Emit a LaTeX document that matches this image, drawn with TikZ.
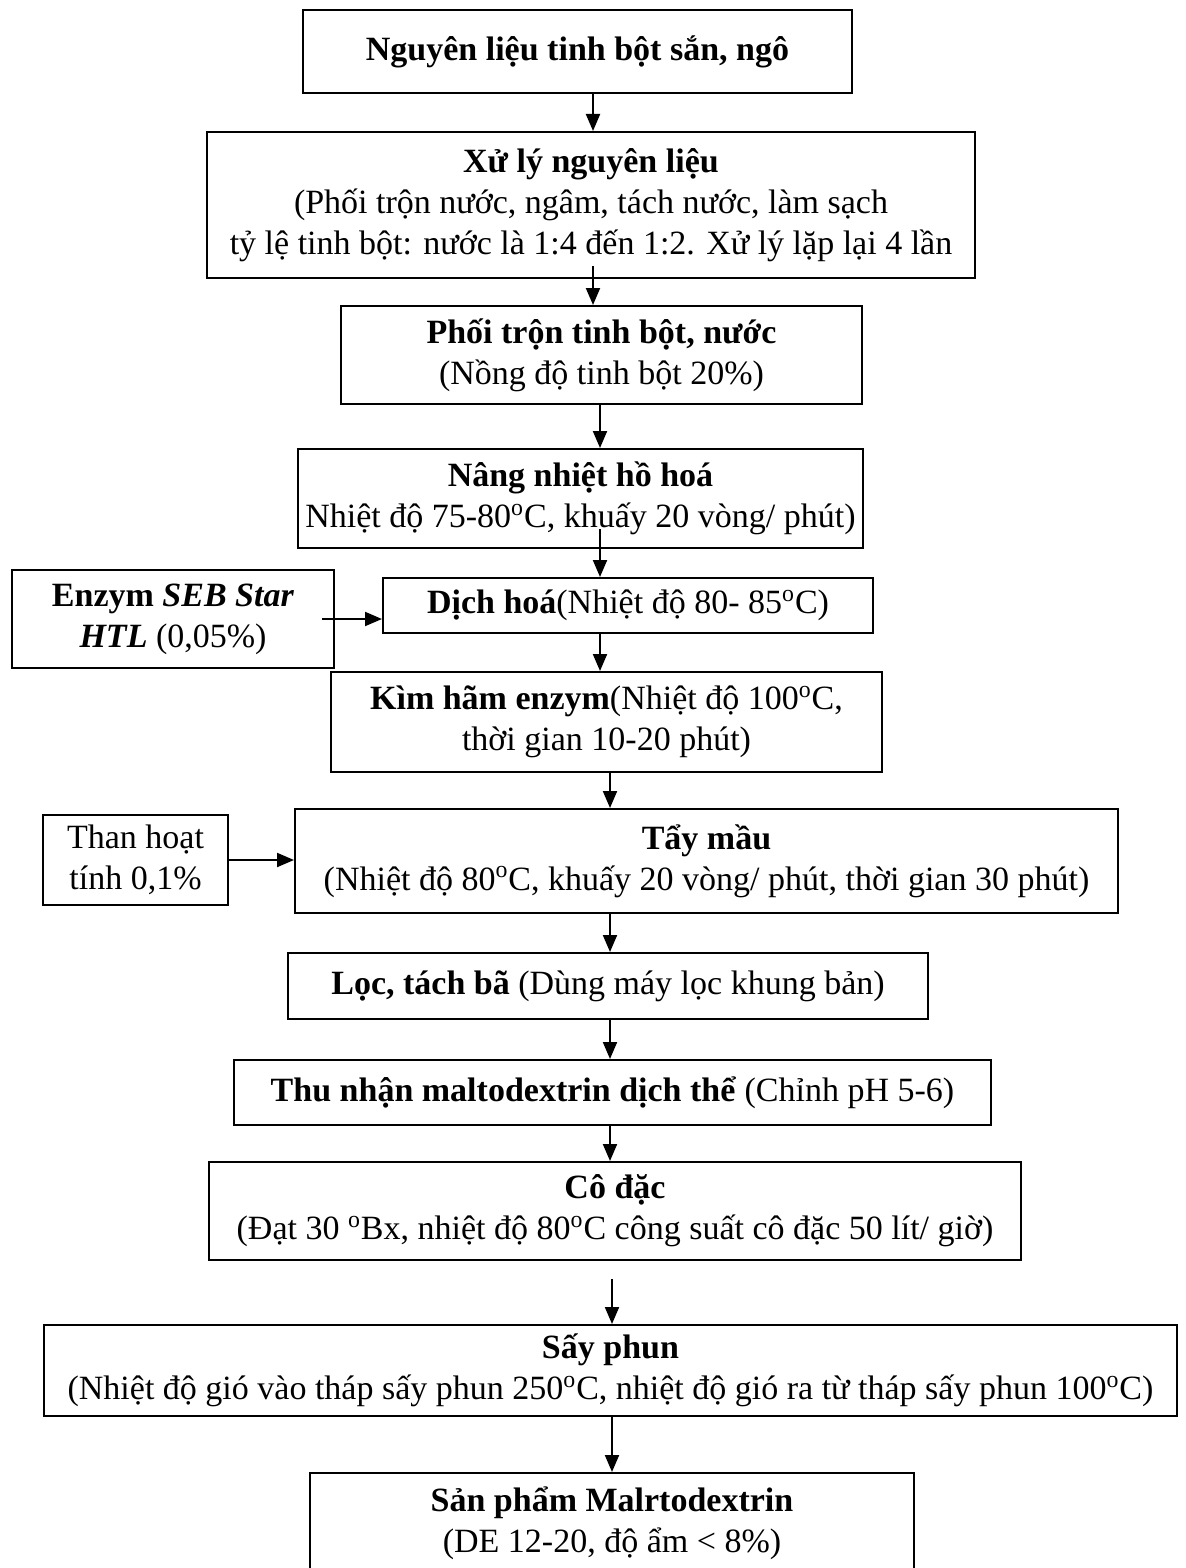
\documentclass[tikz,border=0pt]{standalone}
\usepackage{fontspec}
\setmainfont{Liberation Serif}
\usetikzlibrary{arrows.meta,positioning}
\newcommand{\degc}{\textsuperscript{o}C}

\begin{document}
\begin{tikzpicture}[
    x=0.5pt, y=-0.5pt,
    procbox/.style={rectangle, draw=black, line width=1pt, align=center, inner sep=2pt,
        font=\fontsize{17}{20.5}\selectfont},
    flow/.style={-{Triangle[length=8.5pt,width=7pt]}, line width=1pt}
]
    \useasboundingbox (0,0) rectangle (1186,1568);

    \node[procbox, minimum width=274.5pt, minimum height=41.5pt] (nguyen) at (577.5,51.5) {\textbf{Nguyên liệu tinh bột sắn, ngô}};
    \node[procbox, minimum width=384pt, minimum height=73pt] (xuly) at (591,205) {\textbf{Xử lý nguyên liệu}\\(Phối trộn nước, ngâm, tách nước, làm sạch\\tỷ lệ tinh bột: nước là 1:4 đến 1:2. Xử lý lặp lại 4 lần};
    \node[procbox, minimum width=260.5pt, minimum height=49pt] (phoitron) at (601.5,355) {\textbf{Phối trộn tinh bột, nước}\\(Nồng độ tinh bột 20\%)};
    \node[procbox, minimum width=282.5pt, minimum height=49.5pt] (nangnhiet) at (580.5,498.5) {\textbf{Nâng nhiệt hồ hoá}\\Nhiệt độ 75-80\degc, khuấy 20 vòng/ phút)};
    \node[procbox, minimum width=245pt, minimum height=27.5pt] (dichhoa) at (628,605.5) {\textbf{Dịch hoá}(Nhiệt độ 80- 85\degc)};
    \node[procbox, minimum width=161pt, minimum height=49pt] (enzym) at (173,619) {\textbf{Enzym \textit{SEB Star}}\\\textbf{\textit{HTL}} (0,05\%)};
    \node[procbox, minimum width=275.5pt, minimum height=50pt] (kimham) at (606.5,722) {\textbf{Kìm hãm enzym}(Nhiệt độ 100\degc,\\thời gian 10-20 phút)};
    \node[procbox, minimum width=411.5pt, minimum height=52pt] (taymau) at (706.5,861) {\textbf{Tẩy mầu}\\(Nhiệt độ 80\degc, khuấy 20 vòng/ phút, thời gian 30 phút)};
    \node[procbox, minimum width=92.5pt, minimum height=45pt] (than) at (135.5,860) {Than hoạt\\tính 0,1\%};
    \node[procbox, minimum width=320pt, minimum height=33pt] (loc) at (608,986) {\textbf{Lọc, tách bã} (Dùng máy lọc khung bản)};
    \node[procbox, minimum width=378.5pt, minimum height=32.5pt] (thunhan) at (612.5,1092.5) {\textbf{Thu nhận maltodextrin dịch thể} (Chỉnh pH 5-6)};
    \node[procbox, minimum width=406pt, minimum height=49pt] (codac) at (615,1211) {\textbf{Cô đặc}\\(Đạt 30 \textsuperscript{o}Bx, nhiệt độ 80\degc{} công suất cô đặc 50 lít/ giờ)};
    \node[procbox, minimum width=566.5pt, minimum height=45.5pt] (sayphun) at (610.5,1370.5) {\textbf{Sấy phun}\\(Nhiệt độ gió vào tháp sấy phun 250\degc, nhiệt độ gió ra từ tháp sấy phun 100\degc)};
    \node[procbox, minimum width=302pt, minimum height=50pt] (sanpham) at (612,1523) {\textbf{Sản phẩm Malrtodextrin}\\(DE 12-20, độ ẩm < 8\%)};

    \coordinate (s1) at (593,0);
    \coordinate (s2) at (600,0);
    \coordinate (s3) at (610,0);
    \coordinate (s4) at (612,0);

    \draw[flow] (nguyen.south -| s1) -- (xuly.north -| s1);
    \draw[flow] (xuly.south -| s1) ++(0,-13) -- (phoitron.north -| s1);
    \draw[flow] (phoitron.south -| s2) -- (nangnhiet.north -| s2);
    \draw[flow] (nangnhiet.south -| s2) ++(0,-20) -- (dichhoa.north -| s2);
    \draw[flow] (dichhoa.south -| s2) -- (kimham.north -| s2);
    \draw[flow] (kimham.south -| s3) -- (taymau.north -| s3);
    \draw[flow] (taymau.south -| s3) -- (loc.north -| s3);
    \draw[flow] (loc.south -| s3) -- (thunhan.north -| s3);
    \draw[flow] (thunhan.south -| s3) -- (codac.north -| s3);
    \draw[flow] (codac.south -| s4) ++(0,18) -- (sayphun.north -| s4);
    \draw[flow] (sayphun.south -| s4) -- (sanpham.north -| s4);

    \draw[flow] (enzym.east) ++(-13,0) -- (dichhoa.west |- enzym.east);
    \draw[flow] (than.east) -- (taymau.west |- than.east);
\end{tikzpicture}
\end{document}
